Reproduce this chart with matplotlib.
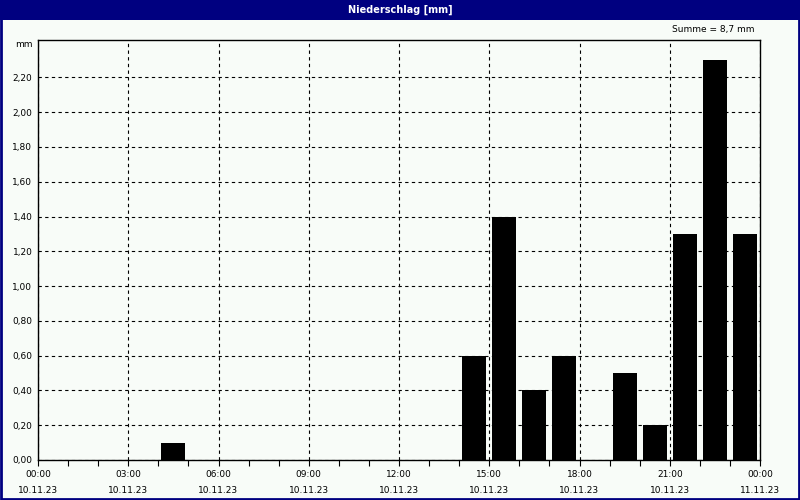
import matplotlib
matplotlib.use("Agg")
import matplotlib.pyplot as plt
from matplotlib.patches import Rectangle

# Stundenwerte Niederschlag (Stunde beginnt bei ...)
stunden = [4, 14, 15, 16, 17, 19, 20, 21, 22, 23]
werte = [0.1, 0.6, 1.4, 0.4, 0.6, 0.5, 0.2, 1.3, 2.3, 1.3]

x_ticks = [0, 3, 6, 9, 12, 15, 18, 21, 24]
x_labels = ["00:00\n10.11.23", "03:00\n10.11.23", "06:00\n10.11.23", "09:00\n10.11.23",
            "12:00\n10.11.23", "15:00\n10.11.23", "18:00\n10.11.23", "21:00\n10.11.23",
            "00:00\n11.11.23"]
y_ticks = [0.0, 0.2, 0.4, 0.6, 0.8, 1.0, 1.2, 1.4, 1.6, 1.8, 2.0, 2.2]
y_labels = ["0,00", "0,20", "0,40", "0,60", "0,80", "1,00", "1,20", "1,40",
            "1,60", "1,80", "2,00", "2,20"]

navy = "#000080"
bg = "#f8fcf8"
fs = 6.5

fig = plt.figure(figsize=(8, 5), dpi=100, facecolor=bg)

# Titelleiste + Rahmen
fig.patches.append(Rectangle((0, 0.96), 1, 0.04, transform=fig.transFigure,
                             facecolor=navy, edgecolor="none", zorder=0))
fig.patches.append(Rectangle((0.001, 0.002), 0.998, 0.997, transform=fig.transFigure,
                             facecolor="none", edgecolor=navy, linewidth=2, zorder=5))
fig.text(0.5, 0.98, "Niederschlag [mm]", color="white", fontsize=7, fontweight="bold",
         ha="center", va="center")

ax = fig.add_axes([0.0475, 0.08, 0.9025, 0.84])
ax.set_facecolor(bg)
ax.bar([s + 0.5 for s in stunden], werte, width=0.8, color="black", zorder=3)

ax.set_xlim(0, 24)
ax.set_ylim(0, 2.415)
ax.set_xticks(x_ticks)
ax.set_xticklabels(x_labels, fontsize=fs, linespacing=2.0)
ax.set_xticks(range(25), minor=True)
ax.set_yticks(y_ticks)
ax.set_yticklabels(y_labels, fontsize=fs)
ax.tick_params(axis="x", which="both", direction="out", length=4, width=0.8, pad=3)
ax.tick_params(axis="y", length=0, pad=4)
ax.grid(True, color="black", linestyle=(0, (3, 3)), linewidth=0.8)
ax.set_axisbelow(True)
for sp in ax.spines.values():
    sp.set_linewidth(1)

ax.text(-0.008, 1.0, "mm", transform=ax.transAxes, ha="right", va="top", fontsize=fs)
ax.text(0.993, 1.015, "Summe = 8,7 mm", transform=ax.transAxes, ha="right", va="bottom",
        fontsize=fs)

fig.savefig("out.png", dpi=100, facecolor=bg)
